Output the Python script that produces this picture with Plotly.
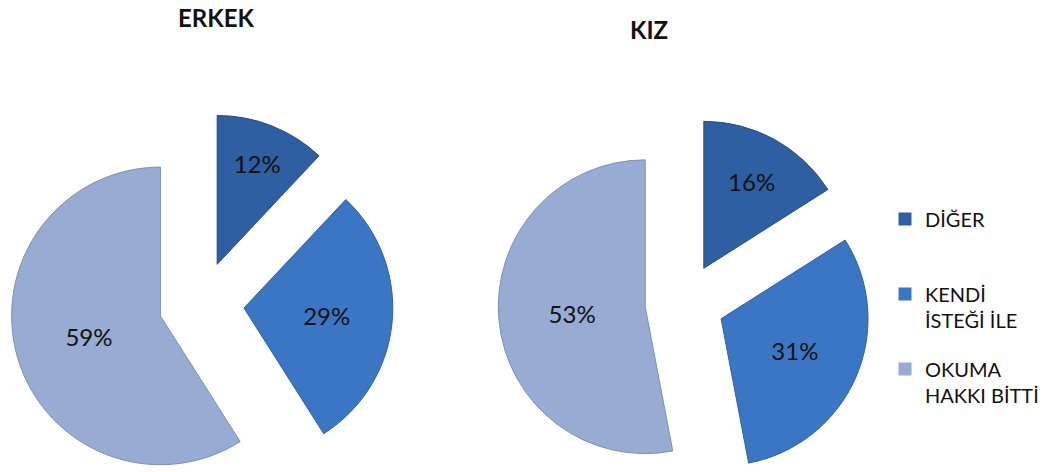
import plotly.graph_objects as go

categories = ["DİĞER", "KENDİ İSTEĞİ İLE", "OKUMA HAKKI BİTTİ"]
legend_labels = ["DİĞER<br>\u00a0", "KENDİ<br>İSTEĞİ İLE", "OKUMA<br>HAKKI BİTTİ"]
erkek_values = [12, 29, 59]
kiz_values = [16, 31, 53]
colors = ["#2E5FA2", "#3B76C4", "#97ABD3"]
edge_colors = ["#244d84", "#2f60a2", "#7c8fb6"]
titles = ["ERKEK", "KIZ"]

FONT = "Lato"
W, H = 1044, 500


def px_x(x):
    return x / W


def px_y(y):
    return 1 - y / H


fig = go.Figure()

pie_common = dict(
    labels=categories,
    sort=False,
    direction="clockwise",
    rotation=0,
    texttemplate="%{value}%",
    textposition="inside",
    insidetextorientation="horizontal",
    textfont=dict(family=FONT, size=24, color="#111111"),
    marker=dict(colors=colors, line=dict(color=edge_colors, width=1)),
    showlegend=False,
    hoverinfo="none",
)

fig.add_trace(go.Pie(values=erkek_values, name=titles[0], pull=[0.287] * 3,
                     domain=dict(x=[px_x(10), px_x(396)], y=[px_y(497), px_y(111)]),
                     **pie_common))
fig.add_trace(go.Pie(values=kiz_values, name=titles[1], pull=[0.27] * 3,
                     domain=dict(x=[px_x(502), px_x(878)], y=[px_y(491), px_y(115)]),
                     **pie_common))

# legend entries
for lab, col in zip(legend_labels, colors):
    fig.add_trace(go.Scatter(
        x=[None], y=[None], mode="markers", name=lab, legendgroup=lab,
        marker=dict(symbol="square", size=13, color=col, line=dict(width=0)),
        showlegend=True, hoverinfo="skip",
    ))

fig.add_annotation(text="<b>" + titles[0] + "</b>", x=px_x(218), y=px_y(17),
                   xref="paper", yref="paper", xanchor="center", yanchor="middle",
                   showarrow=False, font=dict(family=FONT, size=24, color="#111111"))
fig.add_annotation(text="<b>" + titles[1] + "</b>", x=px_x(654), y=px_y(29),
                   xref="paper", yref="paper", xanchor="center", yanchor="middle",
                   showarrow=False, font=dict(family=FONT, size=24, color="#111111"))

fig.update_layout(
    width=W, height=H,
    margin=dict(l=0, r=0, t=0, b=0),
    paper_bgcolor="white", plot_bgcolor="white",
    xaxis=dict(visible=False), yaxis=dict(visible=False),
    hovermode=False,
    legend=dict(x=px_x(892), y=px_y(199.5), xanchor="left", yanchor="top",
                font=dict(family=FONT, size=20, color="#111111"),
                tracegroupgap=20, valign="top", itemwidth=30,
                bgcolor="rgba(0,0,0,0)"),
    showlegend=True,
)

fig.write_html("out.html", config={"displayModeBar": False},
               post_script="document.body.style.margin='0px';")
